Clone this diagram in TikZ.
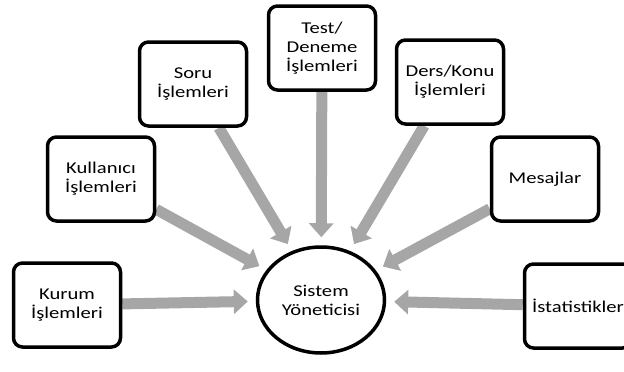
\documentclass[tikz,border=0pt]{standalone}
\usepackage{fontspec}
\setmainfont{Carlito}[FakeStretch=1.25]
\usetikzlibrary{arrows.meta, backgrounds, shapes.geometric}
\definecolor{arrowgray}{RGB}{166,166,166}
\tikzset{
	x=1pt, y=1pt,
	box/.style={draw, line width=3.5pt, rounded corners=9pt, fill=white,
		minimum width=107pt, minimum height=84pt, align=center, inner sep=2pt,
		font=\fontsize{16.5}{19}\selectfont},
	hub/.style={draw, ellipse, line width=3.5pt, fill=white,
		minimum width=127pt, minimum height=106pt, align=center,
		font=\fontsize{16.5}{19}\selectfont},
	feed/.style={draw=arrowgray, line width=11pt,
		-{Triangle[length=14pt, width=24pt]}, shorten >=8pt}
}
\begin{document}
\begin{tikzpicture}
	\useasboundingbox (0,0) rectangle (624,-372);
	% Central node
	\node[hub] (sys) at (321,-300) {Sistem\\Yöneticisi};
	% Boxes
	\node[box] (kurum) at (67,-305) {Kurum\\İşlemleri};
	\node[box] (kullanici) at (101,-179) {Kullanıcı\\İşlemleri};
	\node[box] (soru) at (193,-84) {Soru\\İşlemleri};
	\node[box] (test) at (322,-48) {Test/\\Deneme\\İşlemleri};
	\node[box] (ders) at (450,-82) {Ders/Konu\\İşlemleri};
	\node[box] (mesaj) at (545,-179) {Mesajlar};
	\node[box] (istat) at (578,-306) {İstatistikler};
	% Arrows
	\begin{scope}[on background layer]
		\foreach \src in {kurum, kullanici, soru, test, ders, mesaj, istat}
			{\draw[feed] (\src) -- (sys);}
	\end{scope}
\end{tikzpicture}
\end{document}
